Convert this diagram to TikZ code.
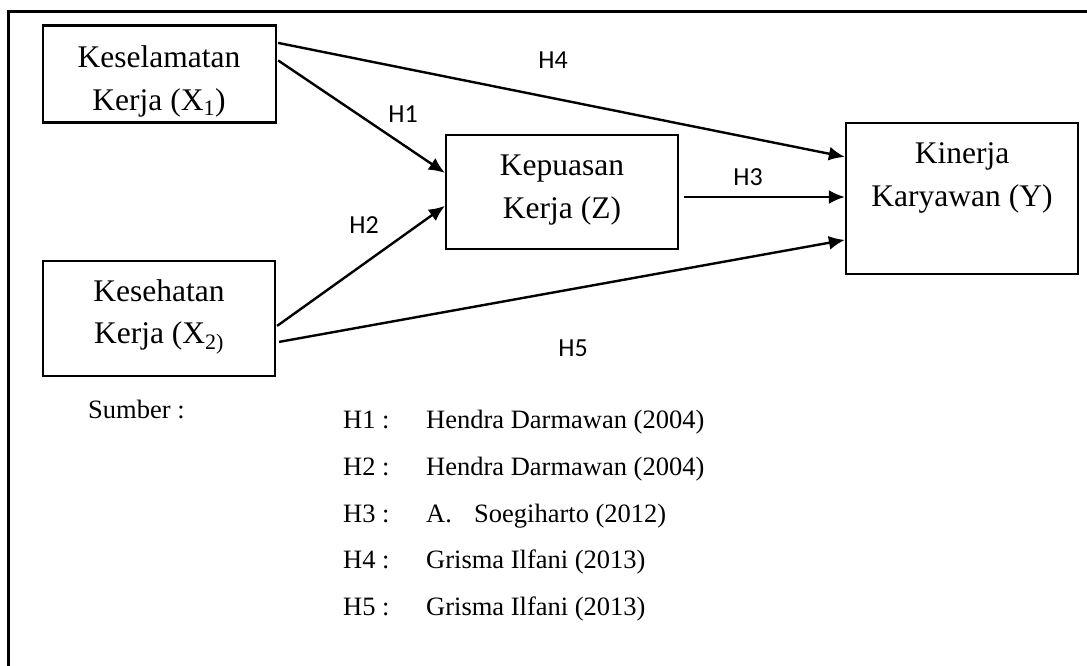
\documentclass[tikz,border=0pt]{standalone}
\usepackage{fontspec}
\setmainfont{Liberation Serif}
\newfontfamily\labfont{Carlito}
\usetikzlibrary{arrows.meta,calc}
\tikzset{
  box/.style={draw, line width=2.2pt, inner sep=0pt, anchor=center},
  boxtext/.style={anchor=base, inner sep=0pt, font=\fontsize{31.5}{37}\selectfont},
  listtext/.style={anchor=base west, inner sep=0pt, font=\fontsize{26.5}{32}\selectfont},
  hlab/.style={inner sep=0pt, font=\labfont\fontsize{26}{30}\selectfont},
  arr/.style={line width=2.4pt, -{Latex[length=16pt,width=14pt]}},
}
\begin{document}
\begin{tikzpicture}[x=1pt,y=-1pt]
\useasboundingbox (0,0) rectangle (1087,665);
% outer frame (clipped at right and bottom)
\draw[line width=2.4pt] (8.5,670) -- (8.5,11.5) -- (1092,11.5);
% boxes
\node[box, minimum width=233, minimum height=97] (ksl) at (159.5,74) {};
\node[box, minimum width=232, minimum height=115] (kst) at (159,318.5) {};
\node[box, minimum width=232, minimum height=114] (kep) at (562,192) {};
\node[box, minimum width=232, minimum height=151] (kin) at (962,198.5) {};
% box texts
\node[boxtext] (ksl1) at (159,67) {Keselamatan};
\node[boxtext] (ksl2) at (159,110) {Kerja (X\textsubscript{1})};
\node[boxtext] (kst1) at (159,301) {Kesehatan};
\node[boxtext] (kst2) at (159,343) {Kerja (X\textsubscript{2)}};
\node[boxtext] (kep1) at (562,175) {Kepuasan};
\node[boxtext] (kep2) at (562,218) {Kerja (Z)};
\node[boxtext] (kin1) at (962,163) {Kinerja};
\node[boxtext] (kin2) at (962,206) {Karyawan (Y)};
% connectors
\draw[arr] ($(ksl.north east)+(1,18.5)$) -- ($(kin.north west)+(0,35)$);
\draw[arr] ($(ksl.north east)+(1,36)$) -- ($(kep.north west)+(0,39)$);
\draw[arr] ($(kst.north east)+(1,66)$) -- ($(kep.north west)+(0,72)$);
\draw[arr] ($(kep.east)+(5,5)$) -- ($(kin.west)+(0,-1.5)$);
\draw[arr] ($(kst.north east)+(3,82)$) -- ($(kin.north west)+(0,118)$);
% connector labels
\node[hlab] (h4) at (553,60) {H4};
\node[hlab] (h1) at (403,114) {H1};
\node[hlab] (h2) at (364,225) {H2};
\node[hlab] (h3) at (748,177) {H3};
\node[hlab] (h5) at (573,348) {H5};
% source list
\node[listtext] (sum) at (88,418) {Sumber :};
\node[listtext] (l1a) at (343,428) {H1 :};
\node[listtext] (l1b) at (426,428) {Hendra Darmawan (2004)};
\node[listtext] (l2a) at (343,475) {H2 :};
\node[listtext] (l2b) at (426,475) {Hendra Darmawan (2004)};
\node[listtext] (l3a) at (343,522) {H3 :};
\node[listtext] (l3b) at (426,522) {A.};
\node[listtext] (l3c) at (474,522) {Soegiharto (2012)};
\node[listtext] (l4a) at (343,568) {H4 :};
\node[listtext] (l4b) at (426,568) {Grisma Ilfani (2013)};
\node[listtext] (l5a) at (343,615) {H5 :};
\node[listtext] (l5b) at (426,615) {Grisma Ilfani (2013)};
\end{tikzpicture}
\end{document}
